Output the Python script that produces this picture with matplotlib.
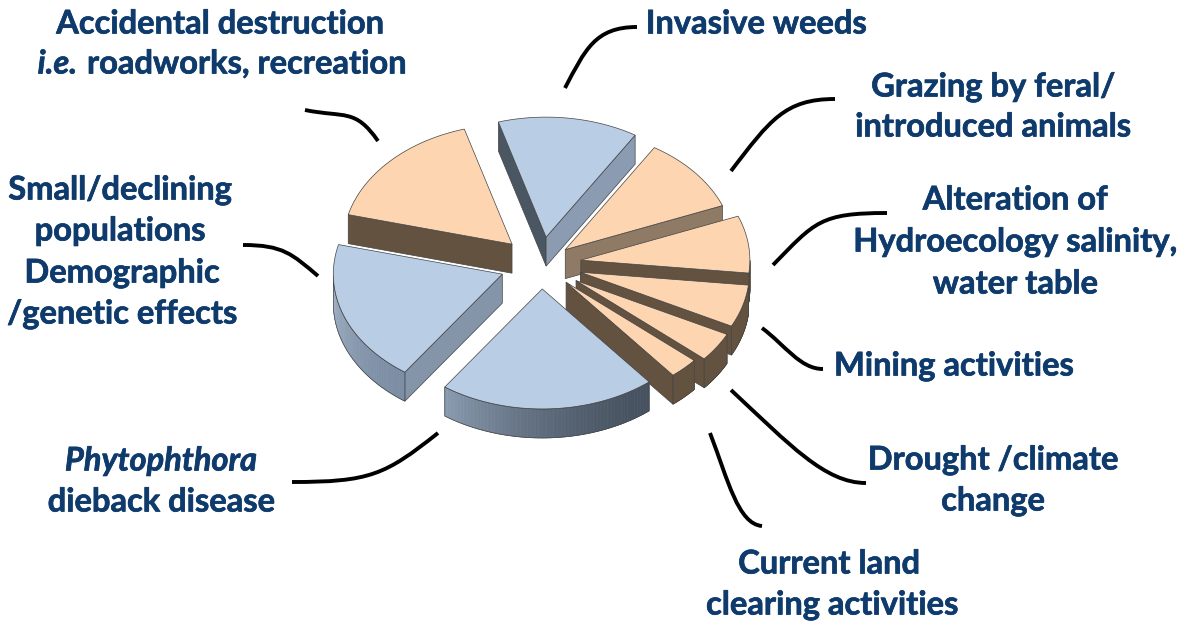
import numpy as np
from matplotlib import pyplot as plt
from matplotlib import patheffects as pe
from matplotlib.colors import to_rgb
from matplotlib.patches import Polygon, PathPatch
from matplotlib.path import Path

# share of each threat, clockwise from the top left edge of Invasive weeds
threats = ['invasive', 'grazing', 'hydro', 'mining', 'drought', 'clearing',
           'phytophthora', 'small', 'accidental']
shares = [13.4, 10.2, 7.7, 5.7, 3.9, 2.8, 20.7, 19.2, 16.5]
explode = [0.226, 0.187, 0.238, 0.243, 0.249, 0.2125, 0.208, 0.244, 0.238]

BLUE = '#b9cde5'
PEACH = '#fdd5b1'
BROWN = '#645240'
NAVY = '#0f3b6c'
EDGE = '#444444'

top_colors = [BLUE, PEACH, PEACH, PEACH, PEACH, PEACH, BLUE, BLUE, PEACH]
# wall at the higher angle, wall at the lower angle, rim gradient
high_wall = ['#4b5663', BROWN, BROWN, BROWN, BROWN, BROWN, BROWN, '#8495aa', BROWN]
low_wall = ['#8b9cb2', '#8f7a65', BROWN, BROWN, BROWN, BROWN, BROWN, BROWN, BROWN]
rim_from = [BLUE, BROWN, BROWN, BROWN, BROWN, BROWN, '#465260', '#7c8ea4', BROWN]
rim_to = [BLUE, BROWN, BROWN, BROWN, BROWN, BROWN, '#8a9bb0', '#a5b4c8', BROWN]
draw_order = ['invasive', 'accidental', 'grazing', 'hydro', 'mining', 'drought',
              'clearing', 'small', 'phytophthora']

cx, cy = 541, 264
rx, ry = 169, 120
depth = 29
start = 106.4
FONT = 23.5


def point(x0, y0, t):
    return x0 + rx * np.cos(np.radians(t)), y0 - ry * np.sin(np.radians(t))


def mix(c1, c2, f):
    return tuple((1 - f) * a + f * b for a, b in zip(to_rgb(c1), to_rgb(c2)))


def wall(ax, p, q, color, z):
    pts = [p, q, (q[0], q[1] + depth), (p[0], p[1] + depth)]
    ax.add_patch(Polygon(pts, fc=color, ec=EDGE, lw=0.5, zorder=z))


def draw_slice(ax, i, t_hi, t_lo, z):
    mid = (t_hi + t_lo) / 2
    x0, y0 = point(0, 0, mid)
    x0, y0 = cx + explode[i] * x0, cy + explode[i] * y0
    ts = np.linspace(t_hi, t_lo, 60)
    arc = [point(x0, y0, t) for t in ts]
    apex = (x0, y0)

    if np.sin(np.radians(t_hi + 90)) < 0:
        wall(ax, apex, arc[0], high_wall[i], z)
    if np.sin(np.radians(t_lo - 90)) < 0:
        wall(ax, apex, arc[-1], low_wall[i], z)

    # rim facing the viewer, shaded segment by segment
    front = [k for k, t in enumerate(ts) if np.sin(np.radians(t)) < 0]
    if front:
        for n, k in enumerate(front[:-1]):
            f = (n / max(len(front) - 2, 1)) ** 1.6
            p, q = arc[k], arc[k + 1]
            c = mix(rim_from[i], rim_to[i], f)
            ax.add_patch(Polygon([p, q, (q[0], q[1] + depth), (p[0], p[1] + depth)],
                                 fc=c, ec=c, lw=0.5, zorder=z))
        upper = [arc[k] for k in front]
        lower = [(x, y + depth) for x, y in upper]
        ax.add_patch(Polygon(upper + lower[::-1], fc='none', ec=EDGE, lw=0.5, zorder=z))

    ax.add_patch(Polygon([apex] + arc, fc=top_colors[i], ec=EDGE, lw=0.5,
                         joinstyle='round', zorder=z))


def leader(ax, pts):
    codes = [Path.MOVETO] + [Path.CURVE4] * (len(pts) - 1)
    ax.add_patch(PathPatch(Path(pts, codes), fc='none', ec='black', lw=2.8,
                           capstyle='butt', zorder=20))


def label(ax, x, y, s, ha='center', style='normal'):
    t = ax.text(x, y + 2, s, ha=ha, va='center', color=NAVY, fontsize=FONT, fontweight='bold',
                fontstyle=style, family='Lato', zorder=30)
    t.set_path_effects([pe.withStroke(linewidth=0.5, foreground=NAVY)])


fig = plt.figure(figsize=(11.92, 6.22), dpi=100)
ax = fig.add_axes([0, 0, 1, 1])
ax.set_xlim(0, 1192)
ax.set_ylim(622, 0)
ax.axis('off')

angles = np.array(shares) / sum(shares) * 360
edges = start - np.concatenate([[0], np.cumsum(angles)])
for z, name in enumerate(draw_order):
    i = threats.index(name)
    draw_slice(ax, i, edges[i], edges[i + 1], z + 1)

leader(ax, [(565, 88), (585, 50), (595, 27), (637, 27)])
leader(ax, [(731, 171), (770, 120), (785, 99), (835, 99)])
leader(ax, [(773, 265), (815, 222), (820, 213), (887, 213)])
leader(ax, [(762, 328), (785, 345), (800, 369), (823, 369)])
leader(ax, [(731, 390), (790, 445), (825, 483), (866, 483)])
leader(ax, [(710, 433), (728, 480), (738, 524), (762, 526)])
leader(ax, [(438, 433), (385, 475), (370, 482), (292, 482)])
leader(ax, [(318, 276), (292, 254), (283, 245), (243, 245)])
leader(ax, [(378, 141), (355, 108), (345, 118), (305, 110)])

label(ax, 220, 22, 'Accidental destruction')
label(ax, 77, 62, 'i.e.', ha='right', style='italic')
label(ax, 87, 62, 'roadworks, recreation', ha='left')
label(ax, 756, 22, 'Invasive weeds')
label(ax, 993, 85, 'Grazing by feral/')
label(ax, 993, 125, 'introduced animals')
label(ax, 1015, 198, 'Alteration of')
label(ax, 1015, 240, 'Hydroecology salinity,')
label(ax, 1015, 282, 'water table')
label(ax, 954, 364, 'Mining activities')
label(ax, 993, 458, 'Drought /climate')
label(ax, 993, 499, 'change')
label(ax, 829, 562, 'Current land')
label(ax, 832, 603, 'clearing activities')
label(ax, 161, 459, 'Phytophthora', style='italic')
label(ax, 161, 500, 'dieback disease')
label(ax, 120, 188, 'Small/declining')
label(ax, 120, 229, 'populations')
label(ax, 122, 271, 'Demographic')
label(ax, 122, 312, '/genetic effects')

fig.savefig('out.png', dpi=100)
